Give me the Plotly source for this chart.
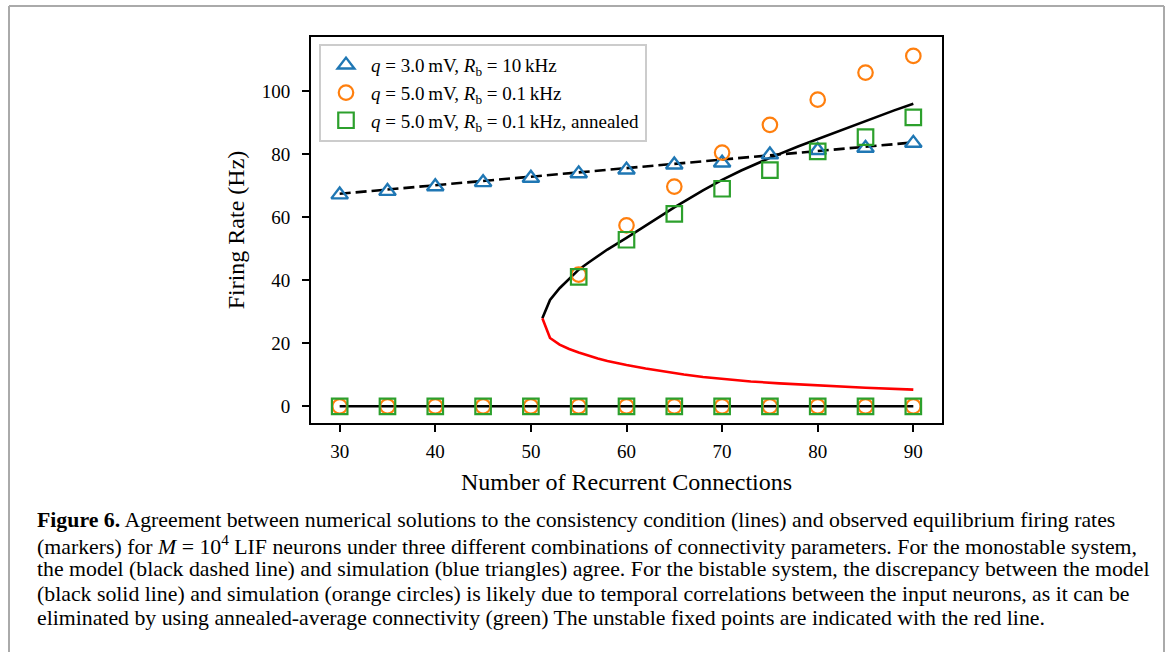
import plotly.graph_objects as go

# ---------------- data ----------------
conn = [30, 35, 40, 45, 50, 55, 60, 65, 70, 75, 80, 85, 90]
tri_rate = [67.2, 68.3, 69.8, 71.1, 72.5, 73.9, 75.1, 76.7, 77.3, 79.9, 81.3, 82.0, 83.6]
zero_rate = [0, 0, 0, 0, 0, 0, 0, 0, 0, 0, 0, 0, 0]

conn_hi = [55, 60, 65, 70, 75, 80, 85, 90]
orange_hi = [41.8, 57.5, 69.8, 80.6, 89.4, 97.4, 106.0, 111.3]
green_hi = [41.1, 52.9, 61.1, 69.1, 75.0, 81.0, 85.5, 91.8]

# model curves
dash_x = [30, 40, 50, 60, 70, 80, 90]
dash_y = [67.5, 70.2, 72.9, 75.5, 78.3, 81.0, 83.8]

stable_x = [51.2, 52, 53, 54, 55, 56, 58, 60, 62, 65, 68, 70, 72, 75, 78, 80, 82, 85, 88, 90]
stable_y = [28.0, 33.8, 37.5, 40.6, 43.4, 45.6, 49.8, 53.5, 57.3, 63.2, 68.6, 71.9, 74.9, 78.9, 82.6, 84.9, 87.3, 90.7, 94.0, 96.1]

unstable_x = [51.2, 52, 53, 54, 55, 56, 57, 58, 59, 60, 62, 64, 66, 68, 70, 73, 76, 80, 85, 90]
unstable_y = [28.0, 21.7, 19.6, 18.2, 17.1, 16.1, 15.2, 14.4, 13.7, 13.1, 12.0, 11.0, 10.1, 9.3, 8.7, 7.9, 7.3, 6.6, 5.9, 5.3]

low_x = [30, 90]
low_y = [0, 0]

x_ticks = [30, 40, 50, 60, 70, 80, 90]
y_ticks = [0, 20, 40, 60, 80, 100]

TS = "\u2009"  # thin space between number and unit
legend_labels = [
    f"<i>q</i> = 3.0{TS}mV, <i>R</i><sub>b</sub> = 10{TS}kHz",
    f"<i>q</i> = 5.0{TS}mV, <i>R</i><sub>b</sub> = 0.1{TS}kHz",
    f"<i>q</i> = 5.0{TS}mV, <i>R</i><sub>b</sub> = 0.1{TS}kHz, annealed",
]

caption_lines = [
    "<b>Figure 6.</b> Agreement between numerical solutions to the consistency condition (lines) and observed equilibrium firing rates",
    "(markers) for <i>M</i> = 10<sup>4</sup> LIF neurons under three different combinations of connectivity parameters. For the monostable system,",
    "the model (black dashed line) and simulation (blue triangles) agree. For the bistable system, the discrepancy between the model",
    "(black solid line) and simulation (orange circles) is likely due to temporal correlations between the input neurons, as it can be",
    "eliminated by using annealed-average connectivity (green) The unstable fixed points are indicated with the red line.",
]

FONT = "Liberation Serif"
BLUE, ORANGE, GREEN = "#1f77b4", "#ff7f0e", "#2ca02c"

fig = go.Figure()

# lines
fig.add_trace(go.Scatter(x=dash_x, y=dash_y, mode="lines", showlegend=False,
                         line=dict(color="black", width=2.6, dash="11px,5px")))
fig.add_trace(go.Scatter(x=stable_x, y=stable_y, mode="lines", showlegend=False,
                         line=dict(color="black", width=2.6)))
fig.add_trace(go.Scatter(x=unstable_x, y=unstable_y, mode="lines", showlegend=False,
                         line=dict(color="red", width=2.6)))
fig.add_trace(go.Scatter(x=low_x, y=low_y, mode="lines", showlegend=False,
                         line=dict(color="black", width=2.6)))

# markers
fig.add_trace(go.Scatter(x=conn, y=tri_rate, mode="markers", name=legend_labels[0],
                         marker=dict(symbol="triangle-up-open", size=14.5, color=BLUE,
                                     line=dict(width=2.4, color=BLUE))))
fig.add_trace(go.Scatter(x=conn + conn_hi, y=zero_rate + orange_hi, mode="markers",
                         name=legend_labels[1],
                         marker=dict(symbol="circle-open", size=14.5, color=ORANGE,
                                     line=dict(width=2.2, color=ORANGE))))
fig.add_trace(go.Scatter(x=conn + conn_hi, y=zero_rate + green_hi, mode="markers",
                         name=legend_labels[2],
                         marker=dict(symbol="square-open", size=15.5, color=GREEN,
                                     line=dict(width=2.2, color=GREEN))))

# plot area in pixels: x 311..942, y 37..423
L, R, T, B = 311, 942, 37, 423
W, H = 1166, 652
pw, ph = R - L, B - T


def px(xp):
    return (xp - L) / pw


def py(yp):
    return (B - yp) / ph


axis_common = dict(showline=True, linecolor="black", linewidth=2, mirror=True,
                   ticks="outside", ticklen=7, tickwidth=2, tickcolor="black",
                   showgrid=False, zeroline=False,
                   tickfont=dict(family=FONT, size=19, color="black"))

fig.update_xaxes(range=[27, 93], tickvals=x_ticks, ticklabelstandoff=3,
                 title=dict(text="Number of Recurrent Connections",
                            font=dict(family=FONT, size=24, color="black"), standoff=12),
                 **axis_common)
fig.update_yaxes(range=[-5.3, 117.3], tickvals=y_ticks, ticklabelstandoff=8,
                 title=dict(text="Firing Rate (Hz)",
                            font=dict(family=FONT, size=24, color="black"), standoff=10),
                 **axis_common)

annotations = []
for i, line in enumerate(caption_lines):
    annotations.append(dict(text=line, xref="paper", yref="paper",
                            x=px(35), y=py(520 + 24.5 * i), xanchor="left", yanchor="middle",
                            showarrow=False, align="left",
                            font=dict(family=FONT, size=21.8, color="black")))

frame = dict(color="#aaaaaa", width=2)
shapes = [
    dict(type="line", xref="paper", yref="paper", x0=px(9), x1=px(9), y0=py(6), y1=py(660), line=frame),
    dict(type="line", xref="paper", yref="paper", x0=px(1164), x1=px(1164), y0=py(6), y1=py(660), line=frame),
    dict(type="line", xref="paper", yref="paper", x0=px(9), x1=px(1164), y0=py(6), y1=py(6), line=frame),
]

fig.update_layout(
    width=W, height=H,
    margin=dict(l=L, r=W - R, t=T, b=H - B),
    paper_bgcolor="white", plot_bgcolor="white",
    font=dict(family=FONT, color="black"),
    legend=dict(x=px(319), y=py(44), xanchor="left", yanchor="top",
                bgcolor="rgba(255,255,255,0.85)", bordercolor="#cccccc", borderwidth=2,
                font=dict(family=FONT, size=19, color="black"),
                itemwidth=40, tracegroupgap=0),
    annotations=annotations,
    shapes=shapes,
)

fig.write_html("out.html")
